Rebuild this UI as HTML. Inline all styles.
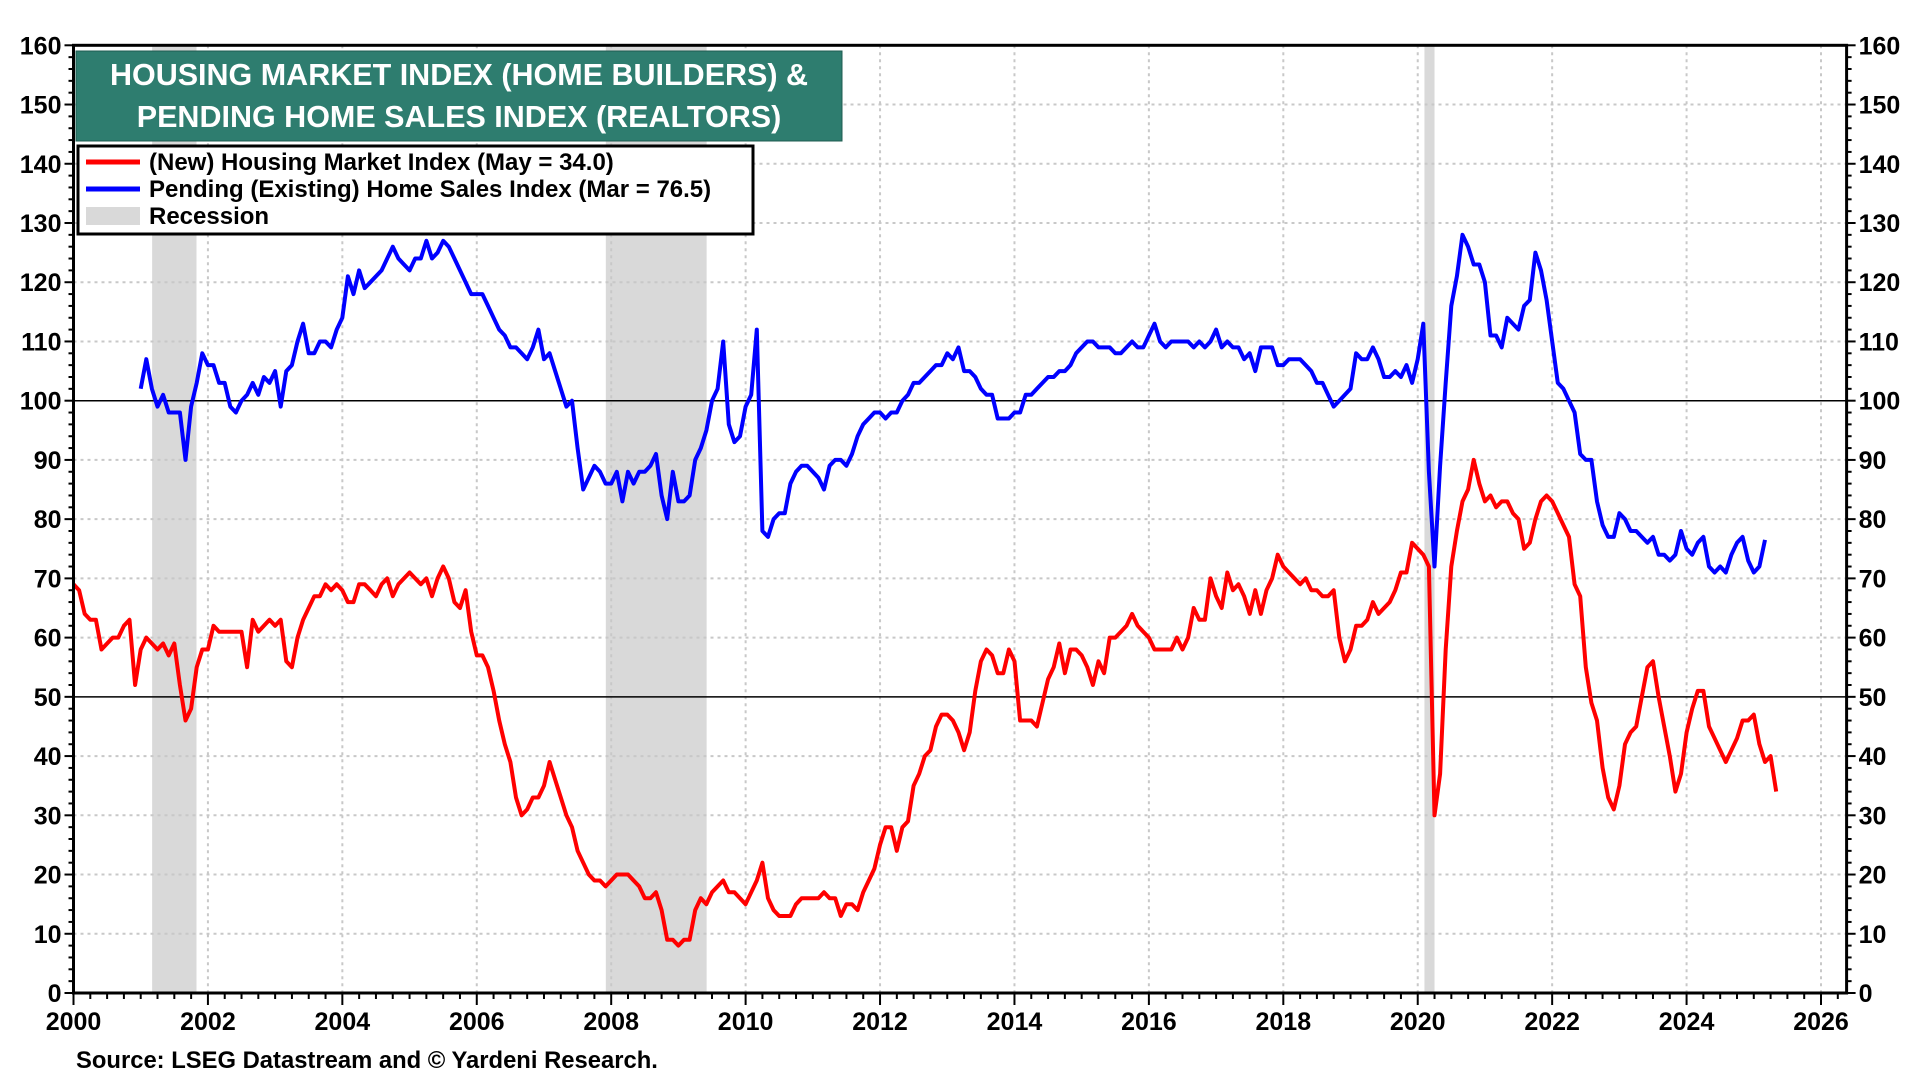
<!DOCTYPE html>
<html><head><meta charset="utf-8"><style>
body{margin:0;background:#fff;}
svg text{font-family:"Liberation Sans",Arial,sans-serif;font-weight:bold;}
</style></head><body>
<svg id="c" width="1920" height="1080" viewBox="0 0 1920 1080" xmlns="http://www.w3.org/2000/svg"></svg>
<script>
const hmiStart = 2000;
const hmi = [
69,68,64,63,63,58,59,60,60,62,63,52,
58,60,59,58,59,57,59,52,46,48,55,58,
58,62,61,61,61,61,61,55,63,61,62,63,
62,63,56,55,60,63,65,67,67,69,68,69,
68,66,66,69,69,68,67,69,70,67,69,70,
71,70,69,70,67,70,72,70,66,65,68,61,
57,57,55,51,46,42,39,33,30,31,33,33,
35,39,36,33,30,28,24,22,20,19,19,18,
19,20,20,20,19,18,16,16,17,14,9,9,
8,9,9,14,16,15,17,18,19,17,17,16,
15,17,19,22,16,14,13,13,13,15,16,16,
16,16,17,16,16,13,15,15,14,17,19,21,
25,28,28,24,28,29,35,37,40,41,45,47,
47,46,44,41,44,51,56,58,57,54,54,58,
56,46,46,46,45,49,53,55,59,54,58,58,
57,55,52,56,54,60,60,61,62,64,62,61,
60,58,58,58,58,60,58,60,65,63,63,70,
67,65,71,68,69,67,64,68,64,68,70,74,
72,71,70,69,70,68,68,67,67,68,60,56,
58,62,62,63,66,64,65,66,68,71,71,76,
75,74,72,30,37,58,72,78,83,85,90,86,
83,84,82,83,83,81,80,75,76,80,83,84,
83,81,79,77,69,67,55,49,46,38,33,31,
35,42,44,45,50,55,56,50,45,40,34,37,
44,48,51,51,45,43,41,39,41,43,46,46,
47,42,39,40,34];
const phsiStart = 2001;
const phsi = [
102,107,102,99,101,98,98,98,90,99,103,108,
106,106,103,103,99,98,100,101,103,101,104,103,
105,99,105,106,110,113,108,108,110,110,109,112,
114,121,118,122,119,120,121,122,124,126,124,123,
122,124,124,127,124,125,127,126,124,122,120,118,
118,118,116,114,112,111,109,109,108,107,109,112,
107,108,105,102,99,100,92,85,87,89,88,86,
86,88,83,88,86,88,88,89,91,84,80,88,
83,83,84,90,92,95,100,102,110,96,93,94,
99,101,112,78,77,80,81,81,86,88,89,89,
88,87,85,89,90,90,89,91,94,96,97,98,
98,97,98,98,100,101,103,103,104,105,106,106,
108,107,109,105,105,104,102,101,101,97,97,97,
98,98,101,101,102,103,104,104,105,105,106,108,
109,110,110,109,109,109,108,108,109,110,109,109,
111,113,110,109,110,110,110,110,109,110,109,110,
112,109,110,109,109,107,108,105,109,109,109,106,
106,107,107,107,106,105,103,103,101,99,100,101,
102,108,107,107,109,107,104,104,105,104,106,103,
107,113,88,72,89,103,116,121,128,126,123,123,
120,111,111,109,114,113,112,116,117,125,122,117,
110,103,102,100,98,91,90,90,83,79,77,77,
81,80,78,78,77,76,77,74,74,73,74,78,
75,74,76,77,72,71,72,71,74,76,77,73,
71,72,76.5];
const recessionStarts = [2001.17, 2007.92, 2020.1];
const recessionEnds = [2001.83, 2009.42, 2020.25];
const xTicks = [2000,2002,2004,2006,2008,2010,2012,2014,2016,2018,2020,2022,2024,2026];
const yTicks = [0,10,20,30,40,50,60,70,80,90,100,110,120,130,140,150,160];

const L=73.5,R=1846.6,T=45.3,B=993;
const X0=2000,X1=2026.4;
const xs=v=>L+(v-X0)*(1821-L)/26;
const ys=v=>B-(v/160)*(B-T);
const svg=document.getElementById('c');
const NS='http://www.w3.org/2000/svg';
function mk(tag,attrs,parent){const e=document.createElementNS(NS,tag);for(const k in attrs)e.setAttribute(k,attrs[k]);(parent||svg).appendChild(e);return e;}

recessionStarts.forEach((s,i)=>{
  const r=mk('rect',{x:xs(s),y:T,width:xs(recessionEnds[i])-xs(s),height:B-T,fill:'#d9d9d9'});
  
  
});
xTicks.forEach(t=>{ if(t>X0){const g=mk('line',{x1:xs(t),x2:xs(t),y1:T,y2:B,stroke:'#c8c8c8','stroke-width':2,'stroke-dasharray':'3,4'});
  }});
yTicks.forEach(t=>{ if(t>0&&t<160){const solid=(t===50||t===100);
  const g=mk('line',{x1:L,x2:R,y1:ys(t),y2:ys(t),stroke:solid?'#000':'#c8c8c8','stroke-width':solid?1.5:2,'stroke-dasharray':solid?'':'3,4'});
  }});

function series(arr,start,color,name){
  const pts=arr.map((v,i)=>xs(start+i/12).toFixed(1)+','+ys(v).toFixed(1)).join(' ');
  const p=mk('polyline',{points:pts,fill:'none',stroke:color,'stroke-width':4,'stroke-linejoin':'round'});
  
  
}
series(phsi,phsiStart,'#0000ff','pending-home-sales-line');
series(hmi,hmiStart,'#ff0000','housing-market-index-line');

const fr=mk('rect',{x:L,y:T,width:R-L,height:B-T,fill:'none',stroke:'#000','stroke-width':3});


for(let v=0;v<=160;v+=2){const major=v%10===0;const len=major?9:5;
  mk('line',{x1:L-len,x2:L,y1:ys(v),y2:ys(v),stroke:'#000','stroke-width':2});
  mk('line',{x1:R,x2:R+len,y1:ys(v),y2:ys(v),stroke:'#000','stroke-width':2});}
yTicks.forEach(t=>{
  const a=mk('text',{x:L-12,y:ys(t)+9,'text-anchor':'end','font-size':25});a.textContent=t;
  
  const b=mk('text',{x:R+12,y:ys(t)+9,'text-anchor':'start','font-size':25});b.textContent=t;
  
});
for(let q=0;q<=105;q++){const yr=X0+q/4;if(yr>X1)break;const major=q%8===0;const len=major?12:6;
  mk('line',{x1:xs(yr),x2:xs(yr),y1:B,y2:B+len,stroke:'#000','stroke-width':2});}
xTicks.forEach(t=>{const a=mk('text',{x:xs(t),y:B+37,'text-anchor':'middle','font-size':25});a.textContent=t;
  });

const tb=mk('rect',{x:76,y:51,width:766,height:90,fill:'#2e7d6f',stroke:'#1f5c50','stroke-width':1});

[['HOUSING MARKET INDEX (HOME BUILDERS) &',85],['PENDING HOME SALES INDEX (REALTORS)',127]].forEach(([s,y])=>{
  const t=mk('text',{x:459,y:y,'text-anchor':'middle','font-size':30.5,fill:'#fff'});t.textContent=s;
  });

const lb=mk('rect',{x:78,y:146,width:675,height:88,fill:'#fff',stroke:'#000','stroke-width':3});

const leg=[['#ff0000','line','(New) Housing Market Index (May = 34.0)'],['#0000ff','line','Pending (Existing) Home Sales Index (Mar = 76.5)'],['#d9d9d9','box','Recession']];
leg.forEach((e,i)=>{const y=162+i*27;
  if(e[1]==='line') mk('line',{x1:86,x2:140,y1:y,y2:y,stroke:e[0],'stroke-width':5});
  else mk('rect',{x:86,y:y-9,width:54,height:18,fill:e[0]});
  const t=mk('text',{x:149,y:y+8,'font-size':24});t.textContent=e[2];
  });

const src=mk('text',{x:76,y:1068,'font-size':23.8});src.textContent='Source: LSEG Datastream and © Yardeni Research.';

</script>
</body></html>
